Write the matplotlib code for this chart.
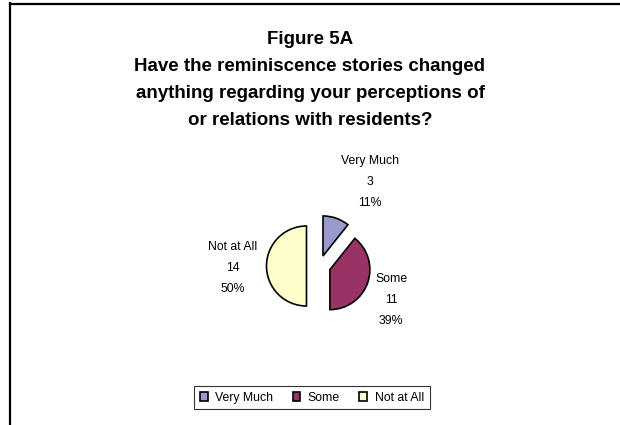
import matplotlib
matplotlib.use('Agg')
import matplotlib.pyplot as plt
from matplotlib.lines import Line2D

plt.rcParams['font.family'] = ['Liberation Sans', 'DejaVu Sans']

# survey answers
categories = ['Very Much', 'Some', 'Not at All']
counts = [3, 11, 14]
colors = ['#9999CC', '#993366', '#FFFFCC']

title = ('Figure 5A\nHave the reminiscence stories changed\n'
         'anything regarding your perceptions of\nor relations with residents?')

total = float(sum(counts))
labels = ['%s\n%d\n%d%%' % (c, n, round(100 * n / total)) for c, n in zip(categories, counts)]

fig = plt.figure(figsize=(6.2, 4.25), dpi=100)
ax = fig.add_axes([0, 0, 1, 1])

# frame lines on the left and top edge
fig.add_artist(Line2D([10 / 620., 10 / 620.], [0, 1 - 3 / 425.], color='black', lw=1.6))
fig.add_artist(Line2D([10 / 620., 1], [1 - 4 / 425., 1 - 4 / 425.], color='black', lw=1.6))

# axes units are pixels, so explode offsets are in pixels too
wedges, _ = ax.pie(counts, colors=colors, startangle=90, counterclock=False,
                   center=(319.5, 159), radius=40, explode=[10.6, 11, 13],
                   wedgeprops=dict(edgecolor='black', linewidth=1.2))
ax.set_xlim(0, 620)
ax.set_ylim(0, 425)
ax.set_aspect('equal')
ax.axis('off')

# slice labels
label_pos = [(370, 243), (391, 125), (233, 157)]
for (x, y), txt in zip(label_pos, labels):
    ax.text(x, y, txt, ha='center', va='center', fontsize=8.8, linespacing=2.0)

fig.text(0.5, 1 - 80 / 425., title, ha='center', va='center', fontsize=13.5,
         fontweight='bold', linespacing=1.78)

leg = fig.legend(wedges, categories, loc='center', bbox_to_anchor=(0.503, 0.064),
                 ncol=3, fontsize=8.8, frameon=True, fancybox=False,
                 handlelength=0.65, handleheight=0.65, handletextpad=0.6,
                 columnspacing=1.6, borderpad=0.45)
leg.get_frame().set_edgecolor('black')
leg.get_frame().set_linewidth(0.8)

fig.savefig('out.png', dpi=100)
